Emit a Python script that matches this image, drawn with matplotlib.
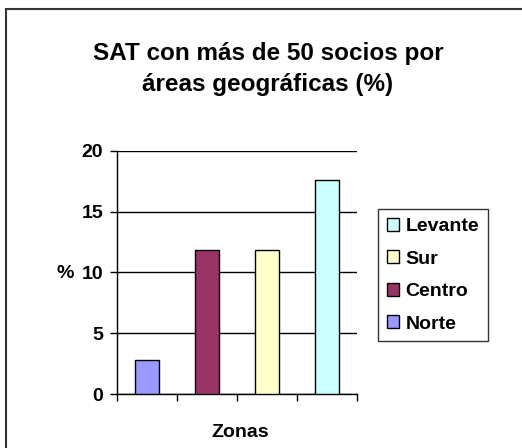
import matplotlib
matplotlib.use("Agg")
import matplotlib.pyplot as plt
from matplotlib.patches import Rectangle

plt.rcParams['font.family'] = ['Liberation Sans', 'DejaVu Sans']

# datos
zonas = ['Norte', 'Centro', 'Sur', 'Levante']
valores = [2.8, 11.8, 11.8, 17.6]
colores = ['#9999FF', '#993366', '#FFFFCC', '#CCFFFF']
yticks = [0, 5, 10, 15, 20]

fig = plt.figure(figsize=(5.22, 4.48), dpi=100)
ax = fig.add_axes([0.224, 0.1205, 0.46, 0.543])

barras = []
for i, (z, v, c) in enumerate(zip(zonas, valores, colores)):
    b = ax.bar(i, v, width=0.4, color=c, edgecolor='black', linewidth=1, label=z, zorder=3)
    barras.append(b)

ax.set_xlim(-0.5, len(zonas) - 0.5)
ax.set_ylim(0, 20)
ax.set_yticks(yticks)
ax.set_yticklabels([str(t) for t in yticks], fontsize=14, fontweight='bold')
ax.set_xticks([i - 0.5 for i in range(len(zonas) + 1)])
ax.set_xticklabels([])
ax.tick_params(axis='y', length=5, width=1, pad=5)
ax.tick_params(axis='x', length=5, width=1)
ax.yaxis.grid(True, color='black', linewidth=1, zorder=0)
ax.spines['right'].set_visible(False)
ax.spines['top'].set_visible(False)
for s in ['left', 'bottom']:
    ax.spines[s].set_linewidth(1)

fig.text(65 / 522, 1 - 273 / 448, '%', ha='center', va='center', fontsize=14, fontweight='bold')
fig.text(240 / 522, 1 - 432 / 448, 'Zonas', ha='center', va='center', fontsize=14, fontweight='bold')

fig.text(268 / 522, 1 - 69 / 448, 'SAT con más de 50 socios por\náreas geográficas (%)',
         ha='center', va='center', fontsize=17.5, fontweight='bold', linespacing=1.4)

handles = barras[::-1]
labels = zonas[::-1]
leg = ax.legend(handles, labels, loc='upper left', bbox_to_anchor=(1.0875, 0.76),
                frameon=True, fancybox=False, edgecolor='black',
                handlelength=0.65, handleheight=0.65, handletextpad=0.3,
                labelspacing=0.78, borderpad=0.45, borderaxespad=0,
                prop={'weight': 'bold', 'size': 14})
leg.get_frame().set_linewidth(1)

# marco exterior
fig.patches.append(Rectangle((6 / 522, -0.05), 1.2, 1 - 9 / 448 + 0.05,
                             transform=fig.transFigure, fill=False,
                             edgecolor='#333333', linewidth=1.5))

fig.savefig('out.png', dpi=100)
